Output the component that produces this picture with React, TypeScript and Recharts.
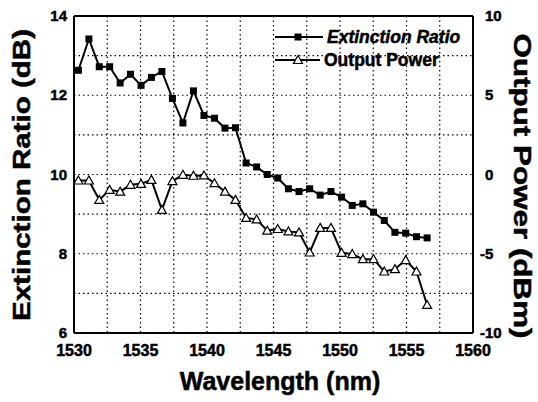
import React from 'react';
import {
  ComposedChart,
  Line,
  XAxis,
  YAxis,
  CartesianGrid,
  Legend,
  Label,
  ReferenceLine,
} from 'recharts';

// ITU 100 GHz channels (nm)
const wavelengths = [
  1530.33, 1531.12, 1531.9, 1532.68, 1533.47, 1534.25, 1535.04, 1535.82, 1536.61,
  1537.4, 1538.19, 1538.98, 1539.77, 1540.56, 1541.35, 1542.14, 1542.94, 1543.73,
  1544.53, 1545.32, 1546.12, 1546.92, 1547.72, 1548.51, 1549.32, 1550.12, 1550.92,
  1551.72, 1552.52, 1553.33, 1554.13, 1554.94, 1555.75, 1556.55,
];

const extinctionRatio = [
  12.63, 13.42, 12.72, 12.72, 12.31, 12.53, 12.25, 12.45, 12.6, 11.92, 11.3, 12.11,
  11.49, 11.42, 11.17, 11.18, 10.29, 10.19, 10.0, 9.91, 9.64, 9.57, 9.64, 9.48,
  9.57, 9.43, 9.22, 9.26, 9.05, 8.84, 8.54, 8.52, 8.43, 8.4,
];

const outputPower = [
  -0.38, -0.38, -1.6, -0.97, -1.08, -0.65, -0.59, -0.34, -2.23, -0.42, -0.02, -0.08,
  -0.06, -0.55, -1.08, -1.6, -2.74, -2.83, -3.54, -3.44, -3.59, -3.65, -4.92, -3.37,
  -3.37, -4.94, -5.02, -5.34, -5.34, -6.12, -5.97, -5.4, -6.12, -8.23,
];

const xTicks = [1530, 1532.5, 1535, 1537.5, 1540, 1542.5, 1545, 1547.5, 1550, 1552.5, 1555, 1557.5, 1560];
const erTicks = [6, 7, 8, 9, 10, 11, 12, 13, 14];
const powerTicks = [-10, -5, 0, 5, 10];

const data = wavelengths.map((w, i) => ({
  wavelength: w,
  er: extinctionRatio[i],
  power: outputPower[i],
}));

const FONT = '"Liberation Sans", Arial, Helvetica, sans-serif';
// scanned figure looks heavy, so thicken the bold text a bit with a stroke
const bold = { fontFamily: FONT, fontWeight: 700, fill: '#000', stroke: '#000', strokeWidth: 0.5 };

const SquareDot = (props: any) => {
  const { cx, cy, index } = props;
  if (cx == null || cy == null) return <g key={`s-${index}`} />;
  return <rect key={`s-${index}`} x={cx - 3.5} y={cy - 3.5} width={7} height={7} fill="#000" />;
};

const TriangleDot = (props: any) => {
  const { cx, cy, index } = props;
  if (cx == null || cy == null) return <g key={`t-${index}`} />;
  const p = `${cx},${cy - 4.5} ${cx + 4.5},${cy + 3.5} ${cx - 4.5},${cy + 3.5}`;
  return <polygon key={`t-${index}`} points={p} fill="#fff" stroke="#000" strokeWidth={1.2} />;
};

const BottomTick = (props: any) => {
  const { x, y, payload } = props;
  const v = payload.value;
  if (v % 5 !== 0) return <g />;
  return (
    <text x={x} y={y + 21} textAnchor="middle" fontSize={16} style={bold}>
      {v}
    </text>
  );
};

const LeftTick = (props: any) => {
  const { x, y, payload } = props;
  const v = payload.value;
  if (v % 2 !== 0) return <g />;
  return (
    <text x={x - 5} y={y + 5} textAnchor="end" fontSize={15} style={bold}>
      {v}
    </text>
  );
};

const RightTick = (props: any) => {
  const { x, y, payload } = props;
  const v = payload.value;
  return (
    <text x={x + 10 - (v < 0 ? 5 : 0)} y={y + 5} textAnchor="start" fontSize={15} style={bold}>
      {v}
    </text>
  );
};

const LegendBox = () => (
  <svg width={210} height={48}>
    <line x1={5} y1={12} x2={53} y2={12} stroke="#000" strokeWidth={2} />
    <rect x={24.5} y={8.5} width={7} height={7} fill="#000" />
    <text x={57} y={18} fontSize={17.5} style={{ ...bold, fontStyle: 'italic' }}>
      Extinction Ratio
    </text>
    <line x1={5} y1={35} x2={50} y2={35} stroke="#000" strokeWidth={2} />
    <polygon points="28,30.5 32.5,38.5 23.5,38.5" fill="#fff" stroke="#000" strokeWidth={1.2} />
    <text x={54} y={41} fontSize={17.5} style={bold}>
      Output Power
    </text>
  </svg>
);

export default function App() {
  return (
    <div style={{ position: 'absolute', left: 0, top: 0, width: 538, height: 402, background: '#fff' }}>
      <ComposedChart
        width={538}
        height={402}
        data={data}
        margin={{ top: 16, right: 0, bottom: 0, left: 0 }}
      >
        <CartesianGrid
          yAxisId="left"
          stroke="#000"
          strokeWidth={1.2}
          strokeDasharray="1.5 3"
        />
        <XAxis
          dataKey="wavelength"
          type="number"
          domain={[1530, 1560]}
          ticks={xTicks}
          interval={0}
          height={69}
          tickLine={false}
          tickSize={0}
          axisLine={{ stroke: '#000', strokeWidth: 2 }}
          tick={<BottomTick />}
        >
          <Label
            content={() => (
              <text x={280} y={390} textAnchor="middle" fontSize={25} style={bold}>
                Wavelength (nm)
              </text>
            )}
          />
        </XAxis>
        <YAxis
          yAxisId="left"
          domain={[6, 14]}
          ticks={erTicks}
          interval={0}
          width={74}
          tickLine={false}
          tickSize={0}
          axisLine={{ stroke: '#000', strokeWidth: 2 }}
          tick={<LeftTick />}
        >
          <Label
            content={() => (
              <text
                x={30}
                y={175}
                transform="rotate(-90 30 175)"
                textAnchor="middle"
                textLength={292}
                lengthAdjust="spacingAndGlyphs"
                fontSize={24}
                style={bold}
              >
                Extinction Ratio (dB)
              </text>
            )}
          />
        </YAxis>
        <YAxis
          yAxisId="right"
          orientation="right"
          domain={[-10, 10]}
          ticks={powerTicks}
          interval={0}
          width={65}
          tickLine={false}
          tickSize={0}
          axisLine={{ stroke: '#000', strokeWidth: 2 }}
          tick={<RightTick />}
        >
          <Label
            content={() => (
              <text
                x={514}
                y={186}
                transform="rotate(90 514 186)"
                textAnchor="middle"
                textLength={305}
                lengthAdjust="spacingAndGlyphs"
                fontSize={24}
                style={bold}
              >
                Output Power (dBm)
              </text>
            )}
          />
        </YAxis>
        <ReferenceLine yAxisId="left" y={14} stroke="#000" strokeWidth={2} />
        <Legend
          layout="horizontal"
          verticalAlign="middle"
          align="center"
          wrapperStyle={{ top: 25, left: 270, width: 210 }}
          content={() => <LegendBox />}
        />
        <Line
          yAxisId="left"
          type="linear"
          dataKey="er"
          name="Extinction Ratio"
          stroke="#000"
          strokeWidth={2}
          dot={SquareDot}
          isAnimationActive={false}
        />
        <Line
          yAxisId="right"
          type="linear"
          dataKey="power"
          name="Output Power"
          stroke="#000"
          strokeWidth={2}
          dot={TriangleDot}
          isAnimationActive={false}
        />
      </ComposedChart>
    </div>
  );
}
